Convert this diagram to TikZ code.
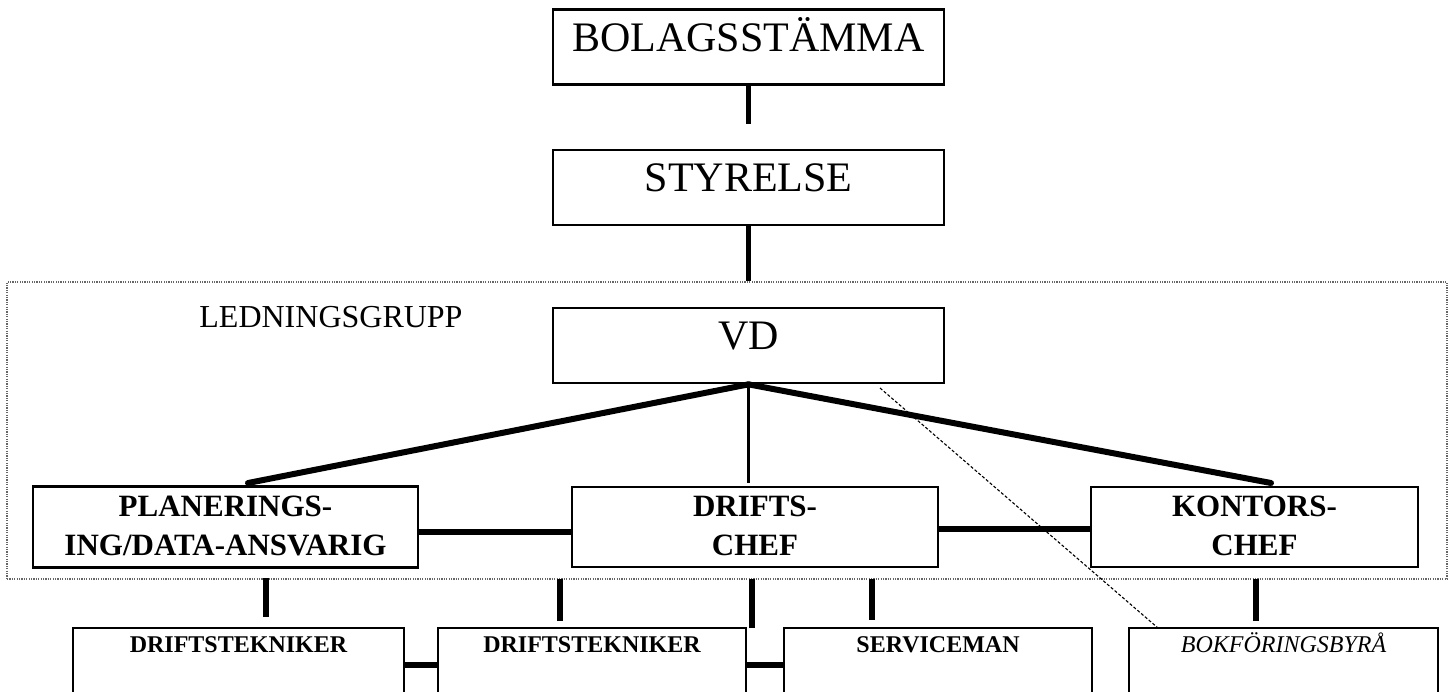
\documentclass[tikz,border=0pt]{standalone}
\usepackage{fontspec}
\setmainfont{Liberation Serif}
\begin{document}
\begin{tikzpicture}[x=0.5pt,y=-0.5pt,
  box/.style={draw, line width=1.35pt, inner sep=0pt, fill=white},
  topbox/.style={box, minimum width=195.5pt, minimum height=37.5pt},
  bigtxt/.style={anchor=base, inner sep=0pt, font=\fontsize{21pt}{24pt}\selectfont},
  midtxt/.style={anchor=base, inner sep=0pt, font=\fontsize{15.5pt}{19pt}\selectfont\bfseries},
  lowtxt/.style={anchor=base, inner sep=0pt, font=\fontsize{12pt}{14pt}\selectfont\bfseries},
  vline/.style={line width=2.8pt},
  diag/.style={line width=3pt},
  thinv/.style={line width=1.7pt},
  hconn/.style={line width=3.2pt},
  lowh/.style={line width=2.6pt},
  grpframe/.style={draw=black!60, line width=0.6pt, dash pattern=on 0.6pt off 0.6pt, inner sep=0pt},
  dashlink/.style={line width=0.55pt, dash pattern=on 1.5pt off 1pt}
]
\useasboundingbox (0,0) rectangle (1456,691);
\clip (0,0) rectangle (1456,691);

% group frame
\node[grpframe, minimum width=720pt, minimum height=148.5pt] (grp) at (727,430.5) {};
\node[anchor=base, inner sep=0pt, font=\fontsize{16pt}{19pt}\selectfont] (ledn) at (331,327) {LEDNINGSGRUPP};

% top boxes
\node[topbox] (bol) at (748.5,47) {};
\node[bigtxt] (bolt) at ([yshift=-21.5pt]bol.north) {BOLAGSSTÄMMA};
\node[topbox] (sty) at (748.5,187.5) {};
\node[bigtxt] (styt) at ([yshift=-21.5pt]sty.north) {STYRELSE};
\node[topbox] (vd) at (748.5,345.5) {};
\node[bigtxt] (vdt) at ([yshift=-21.5pt]vd.north) {VD};

% middle row
\node[box, minimum width=192.5pt, minimum height=40.5pt] (plan) at (225.5,527) {};
\node[midtxt] (plan1) at ([yshift=-15.5pt]plan.north) {PLANERINGS-};
\node[midtxt] (plan2) at ([yshift=-35pt]plan.north) {ING/DATA-ANSVARIG};
\node[box, minimum width=183pt, minimum height=40pt] (dr) at (755,527) {};
\node[midtxt] (dr1) at ([yshift=-15.5pt]dr.north) {DRIFTS-};
\node[midtxt] (dr2) at ([yshift=-35pt]dr.north) {CHEF};
\node[box, minimum width=163.5pt, minimum height=40pt] (kon) at (1254.5,527) {};
\node[midtxt] (kon1) at ([yshift=-15.5pt]kon.north) {KONTORS-};
\node[midtxt] (kon2) at ([yshift=-35pt]kon.north) {CHEF};

% bottom row
\node[box, minimum width=165.5pt, minimum height=56pt] (dt1) at (238.5,684) {};
\node[lowtxt] (dt1t) at ([yshift=-13pt]dt1.north) {DRIFTSTEKNIKER};
\node[box, minimum width=154pt, minimum height=56pt] (dt2) at (592,684) {};
\node[lowtxt] (dt2t) at ([yshift=-13pt]dt2.north) {DRIFTSTEKNIKER};
\node[box, minimum width=154pt, minimum height=56pt] (srv) at (938,684) {};
\node[lowtxt] (srvt) at ([yshift=-13pt]srv.north) {SERVICEMAN};
\node[box, minimum width=154.5pt, minimum height=56pt] (bok) at (1283.5,684) {};
\node[anchor=base, inner sep=0pt, font=\fontsize{12pt}{14pt}\selectfont\itshape] (bokt) at ([yshift=-13pt]bok.north) {BOKFÖRINGSBYRÅ};

% top connectors
\coordinate (b1) at (748.5,124);
\draw[vline] (bol.south) -- (b1);
\draw[vline] (sty.south) -- (sty.south |- grp.north);

% VD connectors
\coordinate (pl) at (248,483);
\coordinate (kn) at (1271,483);
\coordinate (dm) at (748.5,483);
\draw[diag, line cap=round] (vd.south) -- (pl);
\draw[diag, line cap=round] (vd.south) -- (kn);
\draw[thinv] (vd.south) -- (dm);

% dashed link
\coordinate (ds) at (880,388);
\coordinate (de) at (1158,628);
\draw[dashlink] (ds) -- (de);

% middle horizontal links
\draw[hconn] (plan.east |- 0,532) -- (dr.west |- 0,532);
\draw[hconn] (dr.east |- 0,529) -- (kon.west |- 0,529);

% drops from middle row
\coordinate (p1a) at (266,578); \coordinate (p1b) at (266,617);
\coordinate (p2a) at (560,579); \coordinate (p2b) at (560,621);
\coordinate (p3a) at (752,579); \coordinate (p3b) at (752,628);
\coordinate (p4a) at (872,579); \coordinate (p4b) at (872,620);
\coordinate (p5a) at (1256,579); \coordinate (p5b) at (1256,621);
\draw[vline] (p1a) -- (p1b);
\draw[vline] (p2a) -- (p2b);
\draw[vline] (p3a) -- (p3b);
\draw[vline] (p4a) -- (p4b);
\draw[vline] (p5a) -- (p5b);

% bottom horizontal links
\draw[lowh] (dt1.east |- 0,665) -- (dt2.west |- 0,665);
\draw[lowh] (dt2.east |- 0,665) -- (srv.west |- 0,665);
\end{tikzpicture}
\end{document}
